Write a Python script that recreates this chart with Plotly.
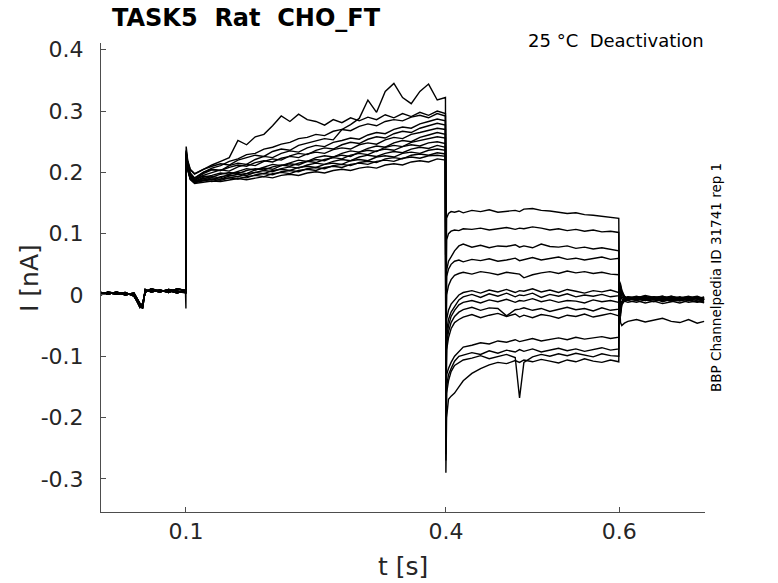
import plotly.graph_objects as go

# time points (s) for each part of the protocol
t_pre = [0.002, 0.01, 0.02, 0.03, 0.04, 0.044, 0.047, 0.05, 0.053, 0.06, 0.07, 0.08, 0.09, 0.0995]
t_act = [0.1, 0.1003, 0.102, 0.105, 0.11,
         0.12, 0.13, 0.14, 0.15, 0.16, 0.17, 0.18, 0.19, 0.20, 0.21, 0.22, 0.23, 0.24, 0.25,
         0.26, 0.27, 0.28, 0.29, 0.30, 0.31, 0.32, 0.33, 0.34, 0.35, 0.36, 0.37, 0.38, 0.39,
         0.3995]
t_tail = [0.4, 0.4008, 0.403, 0.406, 0.41, 0.415, 0.42, 0.43, 0.44, 0.45, 0.46, 0.47, 0.48,
          0.485, 0.49, 0.50, 0.51, 0.52, 0.53, 0.54, 0.55, 0.56, 0.57, 0.58, 0.59, 0.5995]
t_post = [0.6, 0.6015, 0.603, 0.606, 0.61, 0.62, 0.63, 0.64, 0.65, 0.66, 0.67, 0.68, 0.69, 0.698]

# holding current before the step (nA)
pre_a = [0.002, 0.004, 0.001, 0.003, 0.000, -0.012, -0.020, -0.016, 0.006, 0.008, 0.005, 0.009, 0.006, 0.004]
pre_b = [0.004, 0.001, 0.005, 0.000, 0.003, -0.008, -0.015, -0.022, 0.009, 0.005, 0.008, 0.004, 0.010, 0.007]
pre_c = [0.000, 0.005, 0.002, 0.004, -0.002, -0.010, -0.018, -0.014, 0.004, 0.010, 0.006, 0.007, 0.003, 0.008]
pre_sets = [pre_a, pre_b, pre_c, pre_a, pre_b, pre_c, pre_a, pre_b, pre_c, pre_a, pre_b, pre_c, pre_a, pre_b]

# activating step 0.1 - 0.4 s
act = [
    [-0.022, 0.242, 0.220, 0.205, 0.198,
     0.205, 0.210, 0.214, 0.212, 0.220, 0.224, 0.228, 0.226, 0.234, 0.238, 0.236, 0.244, 0.248, 0.251,
     0.255, 0.253, 0.270, 0.278, 0.288, 0.318, 0.298, 0.332, 0.345, 0.322, 0.312, 0.332, 0.344, 0.318,
     0.322],
    [0.004, 0.236, 0.218, 0.204, 0.197,
     0.205, 0.212, 0.218, 0.224, 0.252, 0.245, 0.258, 0.262, 0.276, 0.292, 0.283, 0.295, 0.286, 0.283,
     0.277, 0.286, 0.281, 0.289, 0.284, 0.290, 0.286, 0.294, 0.289, 0.296, 0.291, 0.298, 0.293, 0.300,
     0.296],
    [0.006, 0.232, 0.214, 0.198, 0.190,
     0.200, 0.207, 0.211, 0.218, 0.222, 0.229, 0.231, 0.238, 0.241, 0.246, 0.249, 0.255, 0.257, 0.262,
     0.260, 0.267, 0.270, 0.268, 0.275, 0.279, 0.276, 0.283, 0.286, 0.284, 0.290, 0.293, 0.289, 0.296,
     0.292],
    [0.003, 0.228, 0.210, 0.196, 0.188,
     0.198, 0.204, 0.203, 0.211, 0.215, 0.213, 0.221, 0.226, 0.224, 0.231, 0.235, 0.233, 0.240, 0.244,
     0.242, 0.249, 0.252, 0.256, 0.254, 0.261, 0.265, 0.263, 0.270, 0.274, 0.272, 0.279, 0.283, 0.287,
     0.284],
    [0.007, 0.235, 0.212, 0.194, 0.187,
     0.195, 0.199, 0.204, 0.202, 0.209, 0.213, 0.211, 0.218, 0.222, 0.220, 0.227, 0.231, 0.229, 0.236,
     0.240, 0.238, 0.245, 0.249, 0.247, 0.254, 0.258, 0.256, 0.263, 0.267, 0.265, 0.272, 0.276, 0.280,
     0.277],
    [0.005, 0.226, 0.215, 0.199, 0.191,
     0.200, 0.205, 0.203, 0.208, 0.212, 0.210, 0.216, 0.219, 0.217, 0.223, 0.226, 0.224, 0.230, 0.233,
     0.231, 0.237, 0.240, 0.238, 0.245, 0.248, 0.246, 0.253, 0.257, 0.255, 0.262, 0.265, 0.268, 0.272,
     0.270],
    [0.002, 0.230, 0.208, 0.192, 0.185,
     0.192, 0.195, 0.199, 0.197, 0.202, 0.206, 0.204, 0.209, 0.213, 0.211, 0.216, 0.220, 0.218, 0.224,
     0.227, 0.225, 0.231, 0.235, 0.233, 0.239, 0.243, 0.241, 0.248, 0.252, 0.250, 0.257, 0.261, 0.265,
     0.262],
    [0.006, 0.224, 0.206, 0.190, 0.184,
     0.190, 0.193, 0.191, 0.197, 0.200, 0.198, 0.204, 0.207, 0.205, 0.211, 0.214, 0.212, 0.218, 0.221,
     0.219, 0.225, 0.228, 0.226, 0.233, 0.236, 0.234, 0.241, 0.244, 0.242, 0.249, 0.252, 0.255, 0.258,
     0.256],
    [0.004, 0.233, 0.211, 0.195, 0.188,
     0.194, 0.192, 0.197, 0.200, 0.198, 0.203, 0.206, 0.204, 0.209, 0.212, 0.210, 0.215, 0.218, 0.216,
     0.221, 0.224, 0.222, 0.228, 0.231, 0.229, 0.235, 0.238, 0.236, 0.242, 0.245, 0.243, 0.248, 0.250,
     0.247],
    [0.008, 0.227, 0.207, 0.191, 0.184,
     0.188, 0.191, 0.189, 0.194, 0.197, 0.195, 0.200, 0.203, 0.201, 0.206, 0.209, 0.207, 0.212, 0.215,
     0.213, 0.218, 0.221, 0.219, 0.225, 0.228, 0.226, 0.231, 0.234, 0.232, 0.238, 0.241, 0.239, 0.244,
     0.241],
    [0.003, 0.229, 0.209, 0.193, 0.186,
     0.190, 0.188, 0.193, 0.195, 0.193, 0.198, 0.200, 0.198, 0.203, 0.205, 0.203, 0.208, 0.210, 0.208,
     0.213, 0.215, 0.213, 0.219, 0.221, 0.219, 0.225, 0.227, 0.225, 0.231, 0.233, 0.231, 0.236, 0.238,
     0.236],
    [0.005, 0.225, 0.205, 0.189, 0.183,
     0.186, 0.189, 0.187, 0.191, 0.193, 0.191, 0.196, 0.198, 0.196, 0.201, 0.203, 0.201, 0.206, 0.208,
     0.206, 0.211, 0.213, 0.211, 0.216, 0.218, 0.216, 0.222, 0.224, 0.222, 0.228, 0.230, 0.228, 0.232,
     0.230],
    [0.007, 0.231, 0.207, 0.190, 0.184,
     0.187, 0.185, 0.189, 0.191, 0.189, 0.193, 0.195, 0.193, 0.198, 0.200, 0.198, 0.203, 0.205, 0.203,
     0.208, 0.210, 0.208, 0.213, 0.215, 0.213, 0.218, 0.220, 0.218, 0.223, 0.225, 0.223, 0.227, 0.228,
     0.226],
    [0.004, 0.222, 0.204, 0.188, 0.182,
     0.184, 0.186, 0.185, 0.188, 0.190, 0.188, 0.191, 0.193, 0.191, 0.195, 0.197, 0.195, 0.199, 0.201,
     0.199, 0.203, 0.205, 0.203, 0.207, 0.209, 0.207, 0.212, 0.214, 0.212, 0.217, 0.219, 0.217, 0.222,
     0.220],
]

# deactivation tails 0.4 - 0.6 s
tail = [
    [-0.06, 0.125, 0.133, 0.136, 0.135, 0.137, 0.134, 0.138, 0.136, 0.139, 0.135, 0.137, 0.138,
     0.136, 0.140, 0.141, 0.138, 0.137, 0.135, 0.133, 0.134, 0.131, 0.130, 0.128, 0.127, 0.125],
    [-0.08, 0.090, 0.100, 0.104, 0.106, 0.105, 0.108, 0.107, 0.109, 0.106, 0.108, 0.110, 0.107,
     0.109, 0.108, 0.111, 0.109, 0.106, 0.108, 0.105, 0.107, 0.104, 0.106, 0.103, 0.104, 0.102],
    [-0.10, 0.040, 0.055, 0.062, 0.072, 0.080, 0.083, 0.078, 0.081, 0.077, 0.080, 0.079, 0.082,
     0.078, 0.080, 0.077, 0.083, 0.079, 0.078, 0.080, 0.076, 0.078, 0.075, 0.077, 0.074, 0.072],
    [-0.12, 0.030, 0.042, 0.050, 0.055, 0.057, 0.054, 0.058, 0.056, 0.059, 0.055, 0.057, 0.060,
     0.056, 0.058, 0.061, 0.057, 0.059, 0.062, 0.058, 0.060, 0.057, 0.059, 0.062, 0.058, 0.060],
    [-0.14, 0.000, 0.015, 0.025, 0.032, 0.035, 0.037, 0.034, 0.038, 0.036, 0.033, 0.037, 0.035,
     0.034, 0.028, 0.033, 0.036, 0.038, 0.035, 0.039, 0.036, 0.038, 0.035, 0.037, 0.034, 0.033],
    [-0.16, -0.040, -0.025, -0.015, -0.008, 0.000, 0.004, 0.007, 0.003, 0.008, 0.005, 0.009, 0.004,
     0.007, 0.006, 0.010, 0.005, 0.008, 0.004, 0.009, 0.006, 0.003, 0.007, 0.005, 0.008, 0.004],
    [-0.18, -0.060, -0.040, -0.028, -0.018, -0.008, -0.003, 0.001, -0.004, 0.002, -0.002, 0.003, -0.003,
     0.000, -0.001, 0.003, -0.004, 0.001, -0.002, 0.002, -0.003, 0.000, -0.002, 0.001, -0.003, -0.001],
    [-0.20, -0.070, -0.050, -0.035, -0.025, -0.016, -0.012, -0.009, -0.013, -0.008, -0.011, -0.007, -0.012,
     -0.009, -0.010, -0.006, -0.011, -0.008, -0.012, -0.009, -0.010, -0.013, -0.008, -0.011, -0.009, -0.012],
    [-0.21, -0.080, -0.060, -0.045, -0.035, -0.028, -0.024, -0.020, -0.025, -0.021, -0.022, -0.034, -0.024,
     -0.023, -0.021, -0.025, -0.022, -0.027, -0.023, -0.020, -0.024, -0.022, -0.026, -0.021, -0.025, -0.023],
    [-0.22, -0.090, -0.070, -0.055, -0.045, -0.040, -0.036, -0.032, -0.037, -0.033, -0.030, -0.035, -0.031,
     -0.036, -0.033, -0.037, -0.032, -0.034, -0.038, -0.033, -0.035, -0.031, -0.036, -0.033, -0.030, -0.034],
    [-0.24, -0.130, -0.120, -0.110, -0.100, -0.092, -0.085, -0.082, -0.078, -0.080, -0.075, -0.077, -0.073,
     -0.076, -0.074, -0.071, -0.075, -0.072, -0.070, -0.073, -0.069, -0.072, -0.070, -0.068, -0.071, -0.069],
    [-0.26, -0.150, -0.130, -0.120, -0.108, -0.100, -0.098, -0.094, -0.097, -0.091, -0.095, -0.090, -0.093,
     -0.089, -0.092, -0.088, -0.093, -0.090, -0.087, -0.091, -0.088, -0.092, -0.089, -0.086, -0.090, -0.088],
    [-0.27, -0.160, -0.140, -0.125, -0.115, -0.110, -0.106, -0.103, -0.099, -0.104, -0.100, -0.097, -0.102,
     -0.168, -0.110, -0.101, -0.097, -0.100, -0.096, -0.099, -0.095, -0.098, -0.101, -0.096, -0.099, -0.100],
    [-0.29, -0.200, -0.170, -0.165, -0.160, -0.150, -0.140, -0.128, -0.120, -0.114, -0.110, -0.112, -0.107,
     -0.110, -0.106, -0.109, -0.105, -0.108, -0.111, -0.106, -0.109, -0.104, -0.108, -0.110, -0.106, -0.109],
]

# back to holding after 0.6 s
post = [
    [0.020, -0.015, -0.010, -0.006, -0.004, -0.007, -0.003, -0.008, -0.005, -0.002, -0.006, -0.009, -0.004, -0.007],
    [0.015, -0.020, -0.012, -0.008, -0.005, -0.002, -0.006, -0.004, -0.008, -0.003, -0.007, -0.005, -0.002, -0.006],
    [0.010, -0.025, -0.014, -0.009, -0.003, -0.006, -0.009, -0.005, -0.002, -0.007, -0.004, -0.008, -0.006, -0.003],
    [0.008, -0.030, -0.015, -0.007, -0.006, -0.004, -0.002, -0.007, -0.004, -0.008, -0.005, -0.002, -0.007, -0.005],
    [0.005, -0.035, -0.016, -0.010, -0.008, -0.005, -0.008, -0.003, -0.006, -0.004, -0.009, -0.006, -0.003, -0.008],
    [0.000, -0.045, -0.050, -0.046, -0.043, -0.040, -0.044, -0.041, -0.038, -0.043, -0.045, -0.040, -0.046, -0.043],
    [0.012, -0.008, -0.004, -0.006, -0.003, -0.005, -0.001, -0.004, -0.007, -0.002, -0.005, -0.003, -0.006, -0.004],
    [0.015, 0.010, 0.002, -0.004, -0.006, -0.003, -0.007, -0.004, -0.002, -0.006, -0.003, -0.007, -0.005, -0.008],
    [0.018, 0.015, 0.005, -0.002, -0.005, -0.008, -0.004, -0.006, -0.009, -0.005, -0.008, -0.004, -0.007, -0.009],
    [0.020, 0.012, 0.004, -0.003, -0.007, -0.004, -0.008, -0.010, -0.006, -0.009, -0.005, -0.008, -0.011, -0.007],
    [0.023, 0.018, 0.008, -0.002, -0.006, -0.009, -0.006, -0.003, -0.007, -0.010, -0.006, -0.009, -0.005, -0.008],
    [0.020, 0.010, 0.003, -0.004, -0.008, -0.005, -0.009, -0.006, -0.011, -0.007, -0.010, -0.006, -0.009, -0.012],
    [0.015, 0.006, -0.002, -0.006, -0.009, -0.012, -0.008, -0.011, -0.007, -0.010, -0.013, -0.009, -0.012, -0.010],
    [0.010, 0.000, -0.006, -0.010, -0.012, -0.009, -0.013, -0.010, -0.014, -0.011, -0.008, -0.012, -0.010, -0.013],
]

x_ticks = [0.1, 0.4, 0.6]
x_ticktext = ["0.1", "0.4", "0.6"]
y_ticks = [-0.3, -0.2, -0.1, 0, 0.1, 0.2, 0.3, 0.4]
y_ticktext = ["-0.3", "-0.2", "-0.1", "0", "0.1", "0.2", "0.3", "0.4"]

FONT = "DejaVu Sans"
AXIS_COL = "#4d4d4d"
TXT_COL = "#262626"

t_all = t_pre + t_act + t_tail + t_post

fig = go.Figure()
for k in range(len(act)):
    fig.add_trace(
        go.Scatter(
            x=t_all,
            y=pre_sets[k] + act[k] + tail[k] + post[k],
            mode="lines",
            line=dict(color="black", width=1.4),
            showlegend=False,
            hoverinfo="skip",
        )
    )

axis_common = dict(
    showline=True,
    linecolor=AXIS_COL,
    linewidth=1,
    ticks="inside",
    ticklen=5,
    tickcolor=AXIS_COL,
    showgrid=False,
    zeroline=False,
    tickfont=dict(family=FONT, size=22, color=TXT_COL),
)

fig.update_xaxes(
    range=[0.002, 0.699],
    tickvals=x_ticks,
    ticktext=x_ticktext,
    **axis_common,
)
fig.update_yaxes(
    range=[-0.354, 0.411],
    tickvals=y_ticks,
    ticktext=y_ticktext,
    ticklabelstandoff=12,
    **axis_common,
)

# page body adds an 8px offset, so the figure is a bit smaller than the window
fig.update_layout(
    width=770,
    height=575,
    margin=dict(l=93, r=73, t=35, b=71),
    plot_bgcolor="white",
    paper_bgcolor="white",
    font=dict(family=FONT, color=TXT_COL),
)

nb = "\u00a0"
notes = [
    dict(text="<b>TASK5" + nb * 2 + "Rat" + nb * 2 + "CHO_FT</b>", x=0.2417, y=1.053,
         size=24, color="black", angle=0),
    dict(text="25 °C" + nb * 2 + "Deactivation", x=1.0017, y=1.006,
         size=18, color="black", angle=0, xanchor="right"),
    dict(text="BBP Channelpedia ID 31741 rep 1", x=1.018, y=0.501,
         size=13.5, color="black", angle=-90),
    dict(text="I [nA]", x=-0.1175, y=0.499, size=25, color=TXT_COL, angle=-90),
    dict(text="t [s]", x=0.5, y=-0.117, size=25, color=TXT_COL, angle=0),
]
for n in notes:
    fig.add_annotation(
        text=n["text"],
        x=n["x"],
        y=n["y"],
        xref="paper",
        yref="paper",
        xanchor=n.get("xanchor", "center"),
        yanchor="middle",
        textangle=n["angle"],
        showarrow=False,
        font=dict(family=FONT, size=n["size"], color=n["color"]),
    )

fig.write_html("out.html")
